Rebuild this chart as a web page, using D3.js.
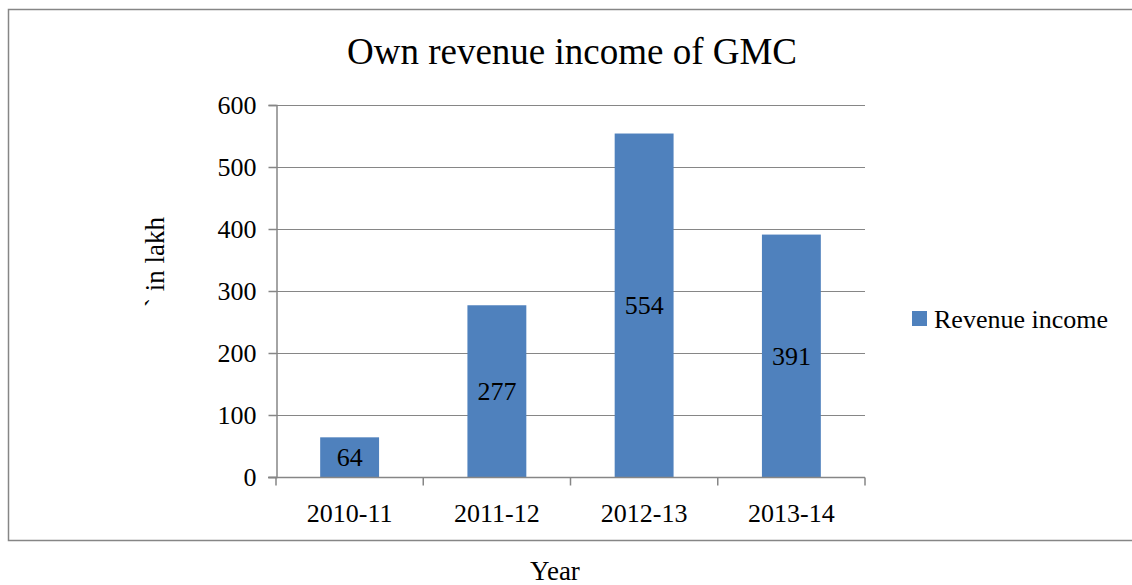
<!DOCTYPE html>
<html>
<head>
<meta charset="utf-8">
<script src="https://cdn.jsdelivr.net/npm/d3@7"></script>
<style>
  body { margin: 0; background: #fff; }
  text { font-family: "Liberation Serif", "Times New Roman", serif; fill: #000; }
</style>
</head>
<body>
<div id="vis"></div>
<script>
// Data
const years = ["2010-11", "2011-12", "2012-13", "2013-14"];
const revenue = [64, 277, 554, 391];
const yTicks = [0, 100, 200, 300, 400, 500, 600];
const seriesName = "Revenue income";

const width = 1132;
const height = 585;
const margin = { top: 105, right: 267, bottom: 108, left: 276 };
const barColor = "#4F81BD";
const lineColor = "#868686";
const fontSize = "26px";

const svg = d3.select("#vis")
  .append("svg")
  .attr("width", width)
  .attr("height", height);

// Outer chart frame (right edge runs off the page)
svg.append("rect")
  .attr("x", 8.5)
  .attr("y", 9.5)
  .attr("width", 1140)
  .attr("height", 531)
  .attr("fill", "none")
  .attr("stroke", lineColor)
  .attr("stroke-width", 1.5);

// Scales
const x = d3.scaleBand()
  .domain(years)
  .range([margin.left, width - margin.right])
  .paddingInner(0.6)
  .paddingOuter(0.3);

const y = d3.scaleLinear()
  .domain([0, 600])
  .range([height - margin.bottom, margin.top]);

// Gridlines
svg.append("g")
  .selectAll("line")
  .data(yTicks.filter(d => d > 0))
  .join("line")
  .attr("x1", margin.left)
  .attr("x2", width - margin.right)
  .attr("y1", d => Math.round(y(d)) + 0.5)
  .attr("y2", d => Math.round(y(d)) + 0.5)
  .attr("stroke", lineColor)
  .attr("stroke-width", 1);

// Bars
svg.append("g")
  .selectAll("rect")
  .data(revenue)
  .join("rect")
  .attr("x", (d, i) => x(years[i]))
  .attr("y", d => y(d))
  .attr("width", x.bandwidth())
  .attr("height", d => y(0) - y(d))
  .attr("fill", barColor);

// Data labels centred in the bars
svg.append("g")
  .selectAll("text")
  .data(revenue)
  .join("text")
  .attr("x", (d, i) => x(years[i]) + x.bandwidth() / 2)
  .attr("y", d => (y(d) + y(0)) / 2)
  .attr("dy", "0.35em")
  .attr("text-anchor", "middle")
  .attr("font-size", fontSize)
  .text(d => d);

// Y axis
const yAxis = svg.append("g")
  .attr("transform", `translate(${margin.left + 0.5},0)`)
  .call(d3.axisLeft(y).tickValues(yTicks).tickSize(8).tickPadding(12));
yAxis.select(".domain").attr("stroke", lineColor).attr("stroke-width", 1.5);
yAxis.selectAll(".tick line").attr("stroke", lineColor).attr("stroke-width", 1.5);
yAxis.selectAll(".tick text")
  .attr("font-family", "Liberation Serif")
  .attr("font-size", fontSize)
  .attr("fill", "#000");

// X axis with boundary ticks between categories
const xAxisG = svg.append("g")
  .attr("transform", `translate(0,${Math.round(y(0)) + 0.5})`);
xAxisG.append("line")
  .attr("x1", margin.left - 8)
  .attr("x2", width - margin.right)
  .attr("stroke", lineColor)
  .attr("stroke-width", 1.5);
const bounds = d3.range(years.length + 1).map(i => margin.left + i * (width - margin.left - margin.right) / years.length);
xAxisG.selectAll("line.bound")
  .data(bounds)
  .join("line")
  .attr("class", "bound")
  .attr("x1", d => d)
  .attr("x2", d => d)
  .attr("y1", 0)
  .attr("y2", 8)
  .attr("stroke", lineColor)
  .attr("stroke-width", 1.5);
xAxisG.selectAll("text")
  .data(years)
  .join("text")
  .attr("x", d => x(d) + x.bandwidth() / 2)
  .attr("y", 44)
  .attr("text-anchor", "middle")
  .attr("font-size", fontSize)
  .text(d => d);

// Title
svg.append("text")
  .attr("x", 572)
  .attr("y", 64)
  .attr("text-anchor", "middle")
  .attr("font-size", "37px")
  .text("Own revenue income of GMC");

// Axis titles
svg.append("text")
  .attr("transform", "rotate(-90)")
  .attr("x", -262)
  .attr("y", 164)
  .attr("text-anchor", "middle")
  .attr("font-size", "27px")
  .text("` in lakh");

svg.append("text")
  .attr("x", 555)
  .attr("y", 580)
  .attr("text-anchor", "middle")
  .attr("font-size", "27px")
  .text("Year");

// Legend
const legend = svg.append("g")
  .attr("transform", "translate(912,311)");
legend.append("rect")
  .attr("width", 15)
  .attr("height", 15)
  .attr("fill", barColor);
legend.append("text")
  .attr("x", 22)
  .attr("y", 8)
  .attr("dy", "0.35em")
  .attr("font-size", fontSize)
  .text(seriesName);
</script>
</body>
</html>
